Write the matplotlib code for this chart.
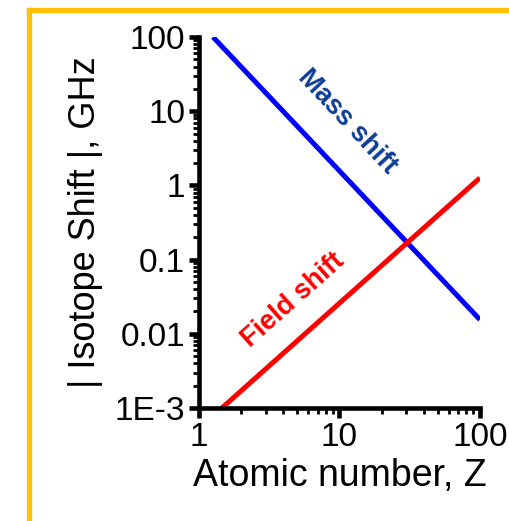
import matplotlib
matplotlib.use("Agg")
import matplotlib.pyplot as plt
from matplotlib.lines import Line2D
from matplotlib.ticker import FixedLocator, FixedFormatter, LogLocator, NullFormatter

plt.rcParams['font.family'] = ['Liberation Sans', 'DejaVu Sans']

# Data
mass_z = [1.26, 100]
mass_shift = [100, 0.0155]
field_z = [1.46, 100]
field_shift = [0.001, 1.26]

y_ticks = [100, 10, 1, 0.1, 0.01, 0.001]
y_tick_labels = ["100", "10", "1", "0.1", "0.01", "1E-3"]
x_ticks = [1, 10, 100]
x_tick_labels = ["1", "10", "100"]

fig = plt.figure(figsize=(5.10, 5.21), dpi=100)
ax = fig.add_axes([0.390, 0.217, 0.551, 0.712])

ax.plot(mass_z, mass_shift, color='#0000ff', lw=3.6, solid_capstyle='butt')
ax.plot(field_z, field_shift, color='#ff0000', lw=3.6, solid_capstyle='butt')

ax.set_xscale('log')
ax.set_yscale('log')
ax.set_xlim(1, 100)
ax.set_ylim(0.001, 100)

ax.xaxis.set_major_locator(FixedLocator(x_ticks))
ax.xaxis.set_major_formatter(FixedFormatter(x_tick_labels))
ax.yaxis.set_major_locator(FixedLocator(y_ticks))
ax.yaxis.set_major_formatter(FixedFormatter(y_tick_labels))
ax.xaxis.set_minor_locator(LogLocator(base=10, subs=range(2, 10)))
ax.yaxis.set_minor_locator(LogLocator(base=10, subs=range(2, 10)))
ax.xaxis.set_minor_formatter(NullFormatter())
ax.yaxis.set_minor_formatter(NullFormatter())

for s in ['top', 'right']:
    ax.spines[s].set_visible(False)
for s in ['left', 'bottom']:
    ax.spines[s].set_linewidth(3.3)
    ax.spines[s].set_capstyle('projecting')

ax.tick_params(which='major', direction='out', length=7, width=3.3, labelsize=24, pad=3)
ax.tick_params(which='minor', direction='out', length=4, width=2)

ax.set_xlabel("Atomic number, Z", fontsize=27, labelpad=4)
ax.set_ylabel("| Isotope Shift |, GHz", fontsize=26, labelpad=8)

ax.text(0.527, 0.772, "Mass shift", transform=ax.transAxes, rotation=-47,
        ha='center', va='center', fontsize=19.5, fontweight='bold', color='#0d3d96',
        rotation_mode='anchor')
ax.text(0.335, 0.290, "Field shift", transform=ax.transAxes, rotation=41.7,
        ha='center', va='center', fontsize=19.5, fontweight='bold', color='#ff0000',
        rotation_mode='anchor')

# gold frame (top and left edges)
gold = '#FFC000'
W, H = 510, 521
fig.add_artist(Line2D([29.5 / W, 1.0], [1 - 9.5 / H, 1 - 9.5 / H], color=gold, lw=3.8,
                      transform=fig.transFigure, solid_capstyle='projecting'))
fig.add_artist(Line2D([29.5 / W, 29.5 / W], [1 - 9.5 / H, 0.0], color=gold, lw=3.8,
                      transform=fig.transFigure, solid_capstyle='projecting'))

fig.savefig("out.png", dpi=100)
